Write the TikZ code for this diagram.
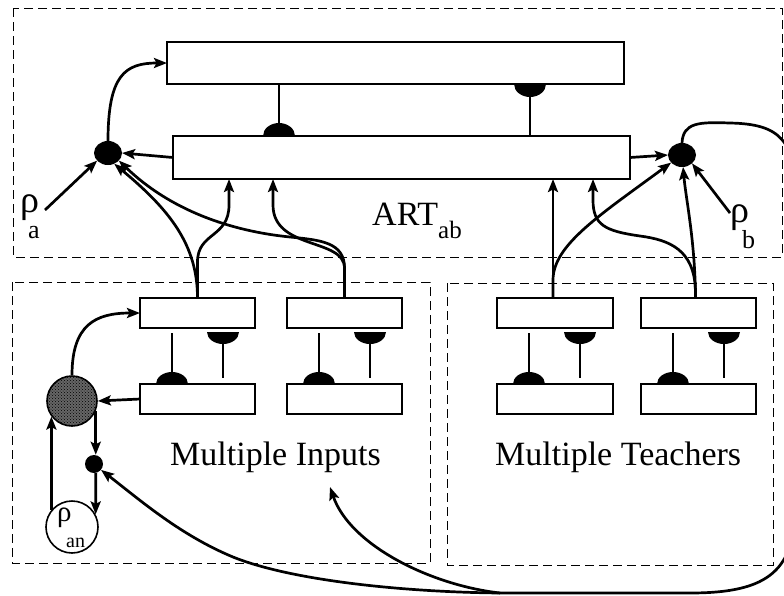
\documentclass[tikz,border=0pt]{standalone}
\usepackage{fontspec}
\setmainfont{Liberation Serif}
\usetikzlibrary{arrows.meta,patterns,shapes.geometric}
\newcommand\pairsyn[2]{%
  \draw[stem] ([xshift=32pt,yshift=-5pt]#1.south west) -- ([xshift=32pt,yshift=10pt]#2.north west);
  \fill ([xshift=16pt]#2.north west) arc[start angle=180,end angle=0,x radius=16pt,y radius=12pt] -- cycle;
  \fill ([xshift=67pt,yshift=-4pt]#1.south west) arc[start angle=180,end angle=360,x radius=16pt,y radius=12pt] -- cycle;
  \draw[stem] ([xshift=83pt,yshift=-12pt]#1.south west) -- ([xshift=83pt,yshift=6pt]#2.north west);
}
\begin{document}
\begin{tikzpicture}[x=1pt,y=-1pt,
  box/.style={draw,line width=1.5pt,inner sep=0pt,outer sep=0pt,minimum width=115pt,minimum height=30pt},
  grp/.style={draw,line width=1pt,dash pattern=on 9pt off 5pt},
  arr/.style={line width=2.7pt,-{Stealth[length=13pt,width=10pt,inset=2.5pt]}},
  conn/.style={line width=2.7pt},
  stem/.style={line width=2.3pt},
  bigdot/.style={ellipse,fill=black,inner sep=0pt,outer sep=0pt,minimum width=28pt,minimum height=24pt},
  lbl/.style={inner sep=0pt,anchor=base west},
  big/.style={lbl,font=\fontsize{34}{34}\selectfont},
  sub/.style={lbl,font=\fontsize{26}{26}\selectfont},
  ]
\useasboundingbox (0,0) rectangle (784,595);

% group frames
\draw[grp] (13,8) rectangle (782,257);
\draw[grp] (12,282) rectangle (430,563);
\draw[grp] (447,283) rectangle (773,565);

% boxes
\node[box,minimum width=457pt,minimum height=42pt] (top) at (395.5,63) {};
\node[box,minimum width=457pt,minimum height=43pt] (mid) at (401.5,157.5) {};
\node[box] (in1t) at (197.5,313) {};
\node[box] (in1b) at (197.5,399) {};
\node[box] (in2t) at (344.5,313) {};
\node[box] (in2b) at (344.5,399) {};
\node[box,minimum width=116pt] (t1t) at (555,313) {};
\node[box,minimum width=116pt] (t1b) at (555,399) {};
\node[box] (t2t) at (698.5,313) {};
\node[box] (t2b) at (698.5,399) {};

% synapses
\draw[stem] ([xshift=112pt]top.south west) -- ([xshift=106pt,yshift=10pt]mid.north west);
\fill ([xshift=90pt]mid.north west) arc[start angle=180,end angle=0,x radius=16pt,y radius=13pt] -- cycle;
\fill ([xshift=347pt]top.south west) arc[start angle=180,end angle=360,x radius=16pt,y radius=13pt] -- cycle;
\draw[stem] ([xshift=363pt]top.south west) -- ([xshift=357pt]mid.north west);
\pairsyn{in1t}{in1b}
\pairsyn{in2t}{in2b}
\pairsyn{t1t}{t1b}
\pairsyn{t2t}{t2b}

% dots and circles
\node[bigdot] (ldot) at (108,153) {};
\node[bigdot] (rdot) at (682,155) {};
\node[circle,draw,line width=1.6pt,fill=black!60,postaction={pattern=crosshatch dots},minimum size=50pt,inner sep=0pt] (hc) at (72,401) {};
\node[circle,fill=black,minimum size=18pt,inner sep=0pt] (sdot) at (94,464) {};
\node[circle,draw,line width=1.6pt,minimum size=52pt,inner sep=0pt] (rhoan) at (72,527) {};

% labels
\node[big] (art) at (372,225) {ART\raisebox{-13pt}{\fontsize{25}{25}\selectfont ab}};
\node[big] (mi) at (170,465) {Multiple Inputs};
\node[big] (mt) at (495,465) {Multiple Teachers};
\node[lbl,font=\fontsize{38}{38}\selectfont] (rhoa) at (20,212) {ρ};
\node[sub] (rhoasub) at (28,238) {a};
\node[lbl,font=\fontsize{38}{38}\selectfont] (rhob) at (730,222) {ρ};
\node[sub] (rhobsub) at (742,248) {b};
\node[lbl,font=\fontsize{29}{29}\selectfont] (rhoanr) at (57,521) {ρ};
\node[lbl,font=\fontsize{20}{20}\selectfont] (rhoansub) at (66,547) {an};
\coordinate (pa) at (45,210);
\coordinate (pb) at (730,213);

% left ART side
\draw[arr] (ldot.north) .. controls (108,75) and (125,63) .. (top.west);
\draw[arr] (mid.west) -- (ldot.east);
\draw[arr] (pa) -- (ldot.215);
\draw[arr] (in1t.north) .. controls (197.5,245) and (170,210) .. (ldot.-60);
\draw[arr] (in1t.north) -- (197.5,262) .. controls (197.5,232) and (229,238) .. (229,205) -- ([xshift=56pt]mid.south west);
\draw[arr] (in2t.north) -- (344.5,268) .. controls (344.5,242) and (320,240) .. (290,237) .. controls (230,231) and (170,210) .. (ldot.-35);
\draw[arr] (in2t.north) -- (344.5,268) .. controls (344.5,238) and (273,250) .. (273,205) -- ([xshift=100pt]mid.south west);

% right ART side
\draw[arr] (mid.east) -- (rdot.west);
\draw[arr] ([xshift=-2pt]t1t.north) -- ([xshift=-2pt]t1t.north |- mid.south);
\draw[arr] ([xshift=-2pt]t1t.north) -- (553,280) .. controls (553,245) and (600,215) .. (rdot.215);
\draw[arr] ([xshift=-3pt]t2t.north) .. controls (695,240) and (686,200) .. (rdot.-85);
\draw[arr] ([xshift=-3pt]t2t.north) -- (695.5,290) .. controls (694,250) and (670,240) .. (640,236) .. controls (605,231) and (593,225) .. (593,200) -- ([xshift=420pt]mid.south west);
\draw[arr] (pb) -- (rdot.-40);

% input module
\draw[arr] (hc.north) .. controls (72,325) and (95,313) .. (in1t.west);
\draw[arr] (in1b.west) -- (hc.east);
\draw[arr] (hc.-23) -- (hc.-23 |- sdot.north);
\draw[arr] (hc.-23 |- sdot.south) -- (rhoan.28);
\draw[arr] (rhoan.140) -- (hc.217);

% feedback from ART_b
\coordinate (fb) at (500,593);
\draw[conn] (rdot.north) .. controls (683,122) and (700,122) .. (730,123) .. controls (780,124) and (796,140) .. (796,200) -- (796,500) .. controls (796,570) and (770,593) .. (690,593) -- (fb);
\draw[arr] (fb) .. controls (430,585) and (350,545) .. (330,487);
\draw[arr] (fb) .. controls (400,592) and (290,580) .. (233,557) .. controls (180,535) and (140,500) .. (sdot.-40);
\end{tikzpicture}
\end{document}
